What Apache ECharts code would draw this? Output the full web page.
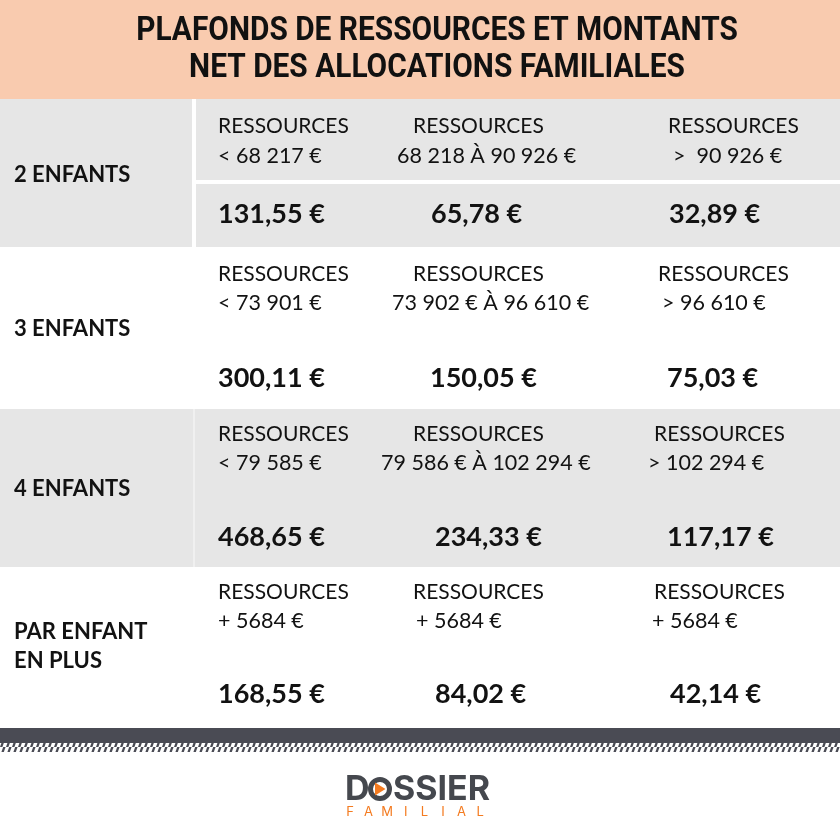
<!DOCTYPE html>
<html>
<head>
<meta charset="utf-8">
<script src="https://cdn.jsdelivr.net/npm/echarts@6/dist/echarts.min.js"></script>
<style>
  html, body { margin: 0; padding: 0; background: #fff; }
  #chart { width: 840px; height: 840px; }
</style>
</head>
<body>
<div id="chart"></div>
<script>
// --- data ---
const titleLines = ["PLAFONDS DE RESSOURCES ET MONTANTS", "NET DES ALLOCATIONS FAMILIALES"];
const rowLabels = ["2 ENFANTS", "3 ENFANTS", "4 ENFANTS", "PAR ENFANT\nEN PLUS"];
const headerWord = "RESSOURCES";
const ressources2 = ["< 68 217 €", "68 218 À 90 926 €", ">  90 926 €"];
const ressources3 = ["< 73 901 €", "73 902 € À 96 610 €", "> 96 610 €"];
const ressources4 = ["< 79 585 €", "79 586 € À 102 294 €", "> 102 294 €"];
const ressourcesPlus = ["+ 5684 €", "+ 5684 €", "+ 5684 €"];
const montants2 = ["131,55 €", "65,78 €", "32,89 €"];
const montants3 = ["300,11 €", "150,05 €", "75,03 €"];
const montants4 = ["468,65 €", "234,33 €", "117,17 €"];
const montantsPlus = ["168,55 €", "84,02 €", "42,14 €"];

const ressources = [ressources2, ressources3, ressources4, ressourcesPlus];
const montants = [montants2, montants3, montants4, montantsPlus];

// --- layout (canvas units, y downwards) ---
const rowTops = [99, 247, 409, 567, 728];
const rowFills = ["#e6e6e6", "#ffffff", "#e6e6e6", "#ffffff"];
const labelY = [175, 329, 489, 646];
const headY = [126, 274, 434, 592];
const rangeY = [156, 303, 463, 621];
const amountY = [214, 378, 537, 694];
const headX = [[218, 413, 668], [218, 413, 658], [218, 413, 654], [218, 413, 654]];
const rangeX = [[218, 397, 673], [218, 392, 662], [218, 381, 648], [218, 416, 652]];
const amountX = [[218, 431, 669], [218, 430, 667], [218, 435, 667], [218, 435, 670]];

const BODY = "Lato, 'Noto Sans', sans-serif";
const TXT = "#121212";

// build text items
var textItems = [];
rowLabels.forEach(function (lab, i) {
  textItems.push({ x: 14, y: labelY[i], text: lab, font: "bold 22px " + BODY, lh: 29 });
  for (var c = 0; c < 3; c++) {
    textItems.push({ x: headX[i][c], y: headY[i], text: headerWord, font: "21px " + BODY });
    textItems.push({ x: rangeX[i][c], y: rangeY[i], text: ressources[i][c], font: "21.5px " + BODY });
    textItems.push({ x: amountX[i][c], y: amountY[i], text: montants[i][c], font: "bold 27px " + BODY });
  }
});

var chartDom = document.getElementById("chart");
var myChart = echarts.init(chartDom);

// hatch pattern for the stripe under the dark bar
var pat = document.createElement("canvas");
pat.width = 6;
pat.height = 9;
var pctx = pat.getContext("2d");
pctx.fillStyle = "#4a4b54";
pctx.beginPath();
pctx.moveTo(3.2, 0);
pctx.lineTo(5.6, 0);
pctx.lineTo(2.4, 9);
pctx.lineTo(0, 9);
pctx.closePath();
pctx.fill();

// logo letters
var logoGraphics = [];
"FAMILIAL".split("").forEach(function (ch, i) {
  logoGraphics.push({
    type: "text",
    x: 350 + i * 18.6,
    y: 812,
    style: { text: ch, fill: "#f47b20", font: "13px Inter, " + BODY, align: "center", verticalAlign: "middle" }
  });
});

var titleGraphics = titleLines.map(function (line, i) {
  return {
    type: "text",
    x: 437,
    y: 32 + i * 37,
    scaleX: 0.905,
    style: {
      text: line,
      fill: "#111",
      font: "bold 33px Roboto, sans-serif",
      align: "center",
      verticalAlign: "middle"
    }
  };
});

var option = {
  animation: false,
  backgroundColor: "#fff",
  grid: { left: 0, right: 0, top: 0, bottom: 0 },
  xAxis: { type: "value", min: 0, max: 840, show: false },
  yAxis: { type: "value", min: 0, max: 840, inverse: true, show: false },
  graphic: [
    { type: "rect", z: -10, shape: { x: 0, y: 0, width: 840, height: 99 }, style: { fill: "#f9cbaf" } },
    { type: "rect", shape: { x: 0, y: 728, width: 840, height: 15 }, style: { fill: "#4a4b54" } },
    { type: "rect", shape: { x: 0, y: 743, width: 840, height: 9 }, style: { fill: { image: pat, repeat: "repeat" } } },
    {
      type: "text", x: 345, y: 790,
      style: { text: "D", fill: "#45484e", font: "bold 34px Inter, sans-serif", verticalAlign: "middle" }
    },
    {
      type: "circle",
      shape: { cx: 380, cy: 789, r: 9.5 },
      style: { fill: "none", stroke: "#45484e", lineWidth: 5 }
    },
    {
      type: "polygon",
      shape: { points: [[375, 782.5], [385.5, 789], [375, 795.5]] },
      style: { fill: "#f47b20" }
    },
    {
      type: "text", x: 393, y: 790,
      style: { text: "SSIER", fill: "#45484e", font: "bold 34px Inter, sans-serif", verticalAlign: "middle" }
    }
  ].concat(titleGraphics, logoGraphics),
  series: [
    {
      name: "rows",
      type: "custom",
      z: 1,
      data: rowLabels.map(function (l, i) { return [i]; }),
      renderItem: function (params, api) {
        var i = api.value(0);
        var p0 = api.coord([0, rowTops[i]]);
        var p1 = api.coord([840, rowTops[i + 1]]);
        var children = [{
          type: "rect",
          shape: { x: p0[0], y: p0[1], width: p1[0] - p0[0], height: p1[1] - p0[1] },
          style: { fill: rowFills[i] }
        }];
        if (i === 0) {
          var v0 = api.coord([192, rowTops[0]]);
          var v1 = api.coord([196, rowTops[1]]);
          children.push({ type: "rect", shape: { x: v0[0], y: v0[1], width: v1[0] - v0[0], height: v1[1] - v0[1] }, style: { fill: "#fff" } });
          var h0 = api.coord([196, 180]);
          var h1 = api.coord([840, 184]);
          children.push({ type: "rect", shape: { x: h0[0], y: h0[1], width: h1[0] - h0[0], height: h1[1] - h0[1] }, style: { fill: "#fff" } });
        }
        if (i === 2) {
          var w0 = api.coord([193, rowTops[2]]);
          var w1 = api.coord([195, rowTops[3]]);
          children.push({ type: "rect", shape: { x: w0[0], y: w0[1], width: w1[0] - w0[0], height: w1[1] - w0[1] }, style: { fill: "#f0f0f0" } });
        }
        return { type: "group", children: children };
      }
    },
    {
      name: "texts",
      type: "custom",
      z: 5,
      data: textItems.map(function (t) { return [t.x, t.y]; }),
      renderItem: function (params, api) {
        var t = textItems[params.dataIndex];
        var p = api.coord([api.value(0), api.value(1)]);
        return {
          type: "text",
          x: p[0],
          y: p[1],
          style: {
            text: t.text,
            fill: TXT,
            font: t.font,
            align: "left",
            verticalAlign: "middle",
            lineHeight: t.lh || 24
          }
        };
      }
    }
  ]
};

option && myChart.setOption(option);
</script>
</body>
</html>
